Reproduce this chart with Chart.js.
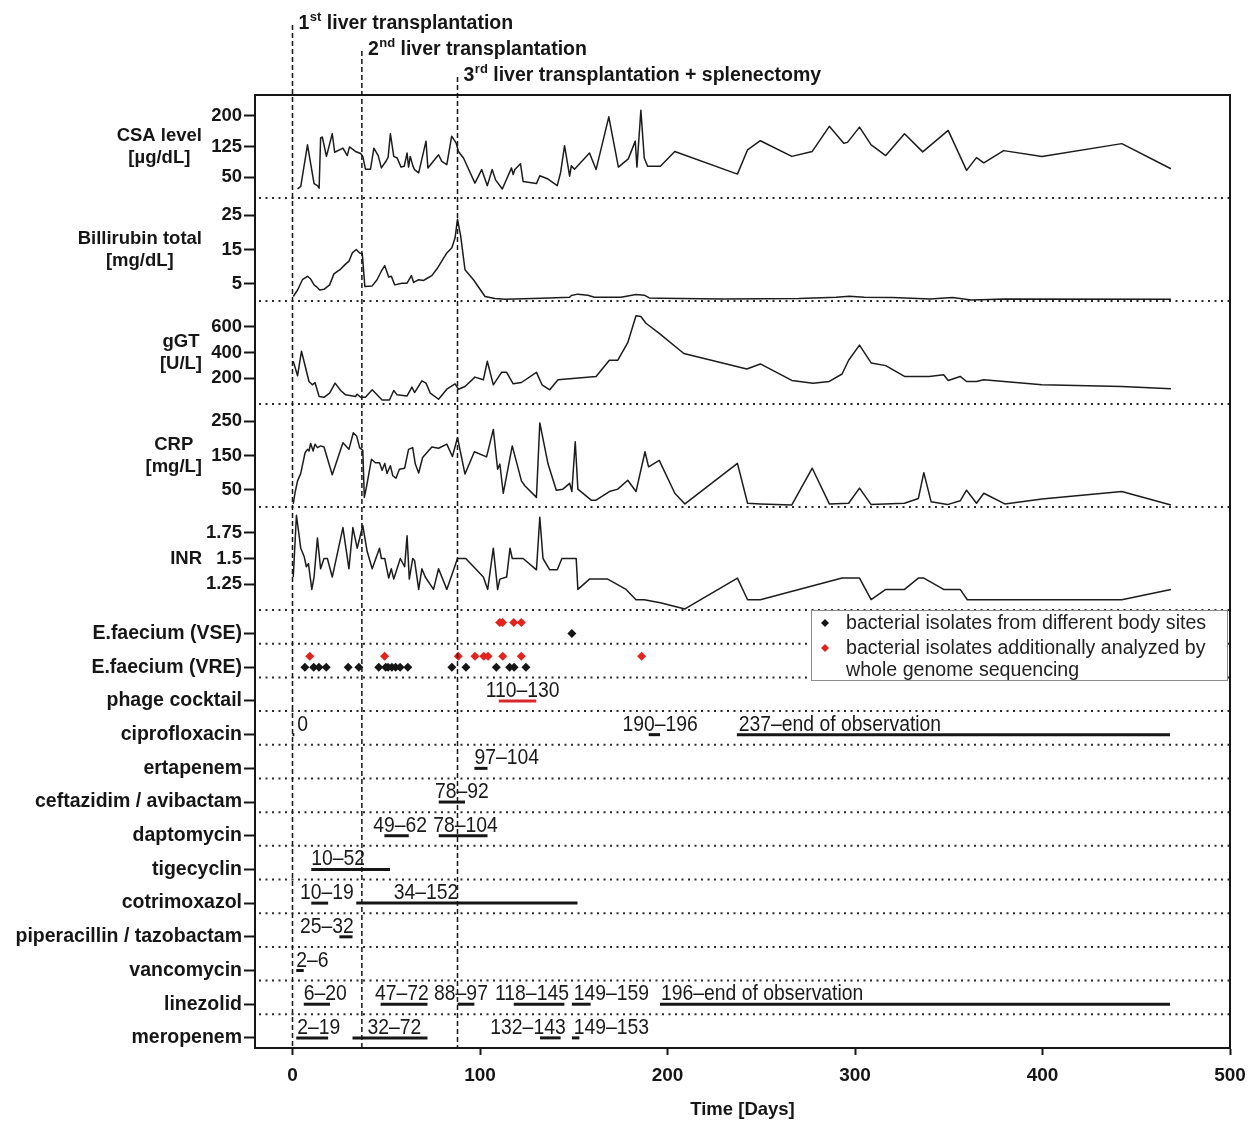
<!DOCTYPE html>
<html>
<head>
<meta charset="utf-8">
<title>Clinical course</title>
<script src="https://cdn.jsdelivr.net/npm/chart.js@4.4.0/dist/chart.umd.min.js"></script>
<style>
  html, body { margin: 0; padding: 0; background: #fff; }
  canvas { display: block; }
</style>
</head>
<body>
<canvas id="chart" width="1255" height="1122"></canvas>
<script>
// --- data (days since first transplantation) ---
const xTicks = [0, 100, 200, 300, 400, 500];
const eventDays = [0, 37, 88];
const eventLabels = [
  ['1', 'st', ' liver transplantation'],
  ['2', 'nd', ' liver transplantation'],
  ['3', 'rd', ' liver transplantation + splenectomy']
];

const panelTitles = [['CSA level', '[µg/dL]'], ['Billirubin total', '[mg/dL]'], ['gGT', '[U/L]'], ['CRP', '[mg/L]'], ['INR']];
const csaTicks = [50, 125, 200];
const biliTicks = [5, 15, 25];
const ggtTicks = [200, 400, 600];
const crpTicks = [50, 150, 250];
const inrTicks = [1.25, 1.5, 1.75];

const csa = [[2.7,22],[4.4,28],[8,129],[11.5,35],[13.3,30],[14.2,24],[15,146],[15.9,148],[18.1,101],[21.2,156],[22.5,111],[26.9,121],[29.2,103],[30.4,124],[33.6,113],[36.3,108],[37.5,101],[38.9,70],[41.6,70],[43.4,121],[45.7,103],[47.4,73],[50.1,91],[51,99],[52.2,156],[54,101],[55.8,97],[57.9,75],[59.6,77],[61.1,109],[61.9,75],[62.8,101],[64.2,78],[65.1,69],[67.3,61],[71.2,138],[72.2,73],[77.9,105],[79.6,89],[82.3,81],[84.9,150],[87.3,133],[88.5,113],[91.2,97],[97.3,36],[100.9,69],[103.9,30],[106.5,69],[108.3,44],[111.9,22],[116.8,73],[117.7,57],[118.6,69],[121.6,83],[123,40],[130.1,35],[131.9,54],[136.3,46],[141.2,30],[143,62],[145.1,127],[147.8,53],[148.7,78],[150.4,70],[158.4,109],[161.9,69],[168.7,197],[173.8,75],[179.1,95],[182.8,138],[183.7,75],[185.8,213],[187.6,97],[189.4,77],[196.2,77],[203.9,113],[237.3,58],[242.7,117],[249.5,139],[266.3,101],[277.2,113],[286.3,174],[294,133],[296,135],[302.4,172],[308.6,129],[316.4,103],[326.4,156],[336.1,112],[349.7,164],[359.5,67],[364.8,98],[368.7,85],[379.3,115],[399.7,101],[442.3,132],[468.5,71]];

const bili = [[0.4,1.3],[2.7,3.2],[5.3,6.2],[8,7.2],[9.7,6.4],[11.5,4.7],[12.7,4.2],[14.5,3.2],[16.8,3.4],[19.8,4.7],[22.1,7.9],[25.7,9.3],[28,10.6],[30.1,11.6],[31.9,14],[34,15],[35.8,14],[37.2,13.8],[38.6,4.2],[42.5,4.4],[45.1,6.2],[47.3,8.6],[49.2,10.3],[51.3,7],[52.7,7.2],[54.5,4.7],[58.4,5.2],[61.1,5.2],[63.4,7.4],[64.6,5.4],[67.3,6.2],[69.9,6],[71.2,6.4],[74.3,7.4],[77,9.3],[79.6,11.6],[82.3,14],[85,15.5],[86.7,18.4],[88,23.8],[89.7,18.9],[92,9.1],[96.5,6.2],[102.7,1.3],[108,0.7],[113.3,0.5],[132.7,0.8],[147.8,1.1],[148.7,1.6],[152.2,2],[157.5,1.7],[161,1.1],[175.2,1.1],[183.2,1.9],[187.6,1.7],[190.3,0.9],[196,0.8],[230,0.6],[270,0.7],[290,1.1],[297,1.4],[305,1.1],[320,1],[340,0.6],[352,1],[358,0.6],[362,0.3],[380,0.6],[468.5,0.5]];

const ggt = [[0.4,332],[2.7,220],[4.8,410],[8.8,175],[10.6,149],[12,167],[14.2,58],[16.8,52],[19.8,84],[22.7,162],[25.7,105],[28.3,71],[33.6,58],[34.5,76],[36.3,52],[38.9,52],[42.5,110],[47.8,31],[51.7,31],[54,105],[55.8,71],[61.1,63],[63.7,131],[65.1,89],[69,180],[71.2,162],[73.5,84],[77.9,37],[82.3,115],[86.7,157],[88.5,115],[92,136],[97.3,209],[101.8,188],[103.9,332],[107.1,149],[111.5,246],[114.2,246],[117.7,157],[122.1,167],[130.1,246],[133.1,149],[137.2,110],[141.6,188],[161.9,214],[169,340],[173.5,340],[178.8,476],[183.2,685],[185.8,680],[188.5,627],[195.6,549],[208.7,392],[242.3,272],[249.5,311],[266.3,183],[277.6,162],[286.3,175],[293.1,233],[296.6,340],[302.4,457],[308.6,319],[316.4,298],[326.4,214],[339.6,214],[347.3,227],[349.7,183],[356.1,214],[359.5,175],[364.8,175],[368.7,188],[399.7,149],[442.3,136],[468.5,118]];

const crp = [[0.4,9],[1.4,43],[2.7,76],[4.4,98],[6.7,158],[8,168],[8.8,163],[9.7,185],[11,163],[12,183],[13.3,173],[15,178],[16.8,175],[21.2,94],[26.9,187],[30.1,168],[32.4,216],[34.2,207],[35.8,173],[37.5,165],[38.3,28],[39.5,60],[42.1,139],[44.2,129],[46.4,129],[47.8,107],[49.2,127],[50.4,98],[52.2,120],[53.5,91],[55.2,84],[57,110],[59.8,113],[61.9,168],[64.1,173],[65.5,125],[67.3,99],[69.4,144],[74.3,175],[77.9,171],[82.3,183],[85.3,147],[88,202],[92,96],[97,161],[103.5,146],[107.1,226],[109.4,110],[110.6,125],[112.4,40],[117.2,178],[122.1,76],[123.9,62],[130.1,28],[131.9,245],[136.3,125],[140.7,49],[144.2,52],[147.8,69],[149,45],[150.8,190],[152.2,52],[159.3,20],[161.9,20],[169,45],[173.5,52],[178.8,78],[183.2,45],[188,161],[189.9,117],[195.6,136],[203.9,40],[209.3,9],[237.3,127],[242.7,11],[249.5,9],[266.3,6],[277.2,113],[286.3,9],[296.6,11],[302.4,55],[308.6,7],[326.4,11],[333.8,25],[336.7,100],[340.6,15],[349.3,7],[356.1,18],[359.5,49],[364.8,11],[368.7,40],[379.9,9],[399.7,23],[442.3,45],[468.5,6]];

const inr = [[0.4,1.32],[2.1,1.92],[4.4,1.6],[6.2,1.52],[7.4,1.42],[8.5,1.45],[10.3,1.2],[11.5,1.32],[13.3,1.7],[15,1.4],[16.8,1.5],[18.6,1.5],[21.2,1.32],[26.9,1.8],[30.1,1.4],[32.2,1.8],[34.5,1.6],[37.5,1.82],[39.8,1.57],[42.5,1.4],[46.4,1.6],[47.4,1.5],[49.2,1.5],[51.3,1.31],[52.7,1.4],[54,1.3],[57.5,1.5],[59.8,1.42],[61.1,1.72],[62.3,1.3],[64.1,1.5],[65.1,1.48],[67.3,1.2],[69,1.4],[70.8,1.32],[75.2,1.2],[77.9,1.4],[82.3,1.2],[88,1.5],[92.4,1.5],[101.8,1.32],[104.1,1.2],[107.1,1.6],[109.4,1.2],[110.6,1.3],[114.2,1.32],[116,1.6],[117.2,1.5],[123,1.5],[130.1,1.39],[131.9,1.9],[133.6,1.5],[137.2,1.39],[141.2,1.39],[143.7,1.5],[151.3,1.5],[152.2,1.2],[158.4,1.3],[168.1,1.3],[177.9,1.2],[183.2,1.1],[187.6,1.1],[196.2,1.07],[209.3,1.01],[237.3,1.31],[242.7,1.1],[249.5,1.1],[293.1,1.31],[302.4,1.31],[308.6,1.1],[316.4,1.2],[326.4,1.2],[333.8,1.31],[336.7,1.31],[347.3,1.2],[356.1,1.2],[359.9,1.1],[442.3,1.1],[468.5,1.2]];

// rows of the lower part, top to bottom
const rowLabels = ['E.faecium (VSE)', 'E.faecium (VRE)', 'phage cocktail', 'ciprofloxacin', 'ertapenem',
  'ceftazidim / avibactam', 'daptomycin', 'tigecyclin', 'cotrimoxazol', 'piperacillin / tazobactam',
  'vancomycin', 'linezolid', 'meropenem'];

const vseBlack = [149];
const vseRed = [110.5, 112, 118, 122];
const vreBlack = [6.6, 11.3, 14.1, 18, 29.7, 35.4, 46, 49.7, 51, 53, 55, 57.4, 61.5, 85, 92.5, 108.7, 115.8, 118.2, 124.5];
const vreRed = [9.2, 49.1, 88.4, 97.3, 102, 104.3, 112.1, 122, 186.2];

// [row, first day, last day, label, day where the label starts]
const therapies = [
  ['phage cocktail', 110, 130, '110–130', 103],
  ['ciprofloxacin', 0, 1, '0', 2.5],
  ['ciprofloxacin', 190, 196, '190–196', 176],
  ['ciprofloxacin', 237, 468, '237–end of observation', 238],
  ['ertapenem', 97, 104, '97–104', 97],
  ['ceftazidim / avibactam', 78, 92, '78–92', 76],
  ['daptomycin', 49, 62, '49–62', 43],
  ['daptomycin', 78, 104, '78–104', 75],
  ['tigecyclin', 10, 52, '10–52', 10],
  ['cotrimoxazol', 10, 19, '10–19', 4],
  ['cotrimoxazol', 34, 152, '34–152', 54],
  ['piperacillin / tazobactam', 25, 32, '25–32', 4],
  ['vancomycin', 2, 6, '2–6', 2],
  ['linezolid', 6, 20, '6–20', 6],
  ['linezolid', 47, 72, '47–72', 44],
  ['linezolid', 88, 97, '88–97', 75.5],
  ['linezolid', 118, 145, '118–145', 108],
  ['linezolid', 149, 159, '149–159', 150],
  ['linezolid', 196, 468, '196–end of observation', 196.5],
  ['meropenem', 2, 19, '2–19', 2.5],
  ['meropenem', 32, 72, '32–72', 40],
  ['meropenem', 132, 143, '132–143', 105.5],
  ['meropenem', 149, 153, '149–153', 150]
];

// --- styling ---
const FONT = "'Liberation Sans', Arial, Helvetica, sans-serif";
const INK = '#161616';
const RED = '#e3231c';
Chart.defaults.font.family = FONT;
Chart.defaults.color = INK;

const rowOf = name => rowLabels.indexOf(name);
const pts = arr => arr.map(([x, y]) => ({ x, y }));

function panelAxis(min, max, ticks, order) {
  return {
    type: 'linear', position: 'left', stack: 'left', stackWeight: 103, weight: order,
    min, max,
    afterBuildTicks: s => { s.ticks = ticks.map(v => ({ value: v })); },
    afterFit: s => { s.width = 255; },
    grid: { drawOnChartArea: false, drawTicks: true, tickLength: 11, tickWidth: 2, tickColor: INK },
    border: { display: true, width: 2, color: INK },
    ticks: { autoSkip: false, padding: 2, color: INK, font: { size: 18.5, weight: 'bold' }, callback: v => String(v) }
  };
}

function labLine(data, axis) {
  return {
    type: 'line', data: pts(data), yAxisID: axis,
    borderColor: '#1c1c1c', borderWidth: 1.5, borderJoinStyle: 'round',
    pointRadius: 0, tension: 0, fill: false
  };
}

const datasets = [
  labLine(csa, 'yCSA'),
  labLine(bili, 'yBili'),
  labLine(ggt, 'yGGT'),
  labLine(crp, 'yCRP'),
  labLine(inr, 'yINR')
];

function dots(days, row, color, lift) {
  return {
    type: 'scatter', yAxisID: 'yRows',
    data: days.map(d => ({ x: d, y: rowOf(row) - lift })),
    pointStyle: 'rectRot', pointRadius: 4.5, pointBackgroundColor: color, pointBorderWidth: 0
  };
}
datasets.push(dots(vseBlack, 'E.faecium (VSE)', INK, 0));
datasets.push(dots(vseRed, 'E.faecium (VSE)', RED, 0.33));
datasets.push(dots(vreBlack, 'E.faecium (VRE)', INK, 0));
datasets.push(dots(vreRed, 'E.faecium (VRE)', RED, 0.33));

therapies.forEach(([row, from, to]) => {
  datasets.push({
    type: 'line', yAxisID: 'yRows',
    data: [{ x: from, y: rowOf(row) }, { x: to, y: rowOf(row) }],
    borderColor: row === 'phage cocktail' ? '#d8262a' : INK,
    borderWidth: 3, borderCapStyle: 'butt', pointRadius: 0
  });
});

const decor = {
  id: 'decor',
  beforeDatasetsDraw(chart) {
    const { ctx, chartArea: a, scales: s } = chart;
    ctx.save();
    // dotted separators
    ctx.strokeStyle = '#2a2a2a';
    ctx.lineWidth = 2;
    ctx.setLineDash([2, 4.5]);
    const ys = ['yCSA', 'yBili', 'yGGT', 'yCRP', 'yINR'].map(id => s[id].bottom);
    for (let i = 0; i < rowLabels.length - 1; i++) ys.push(s.yRows.getPixelForValue(i + 0.3));
    ys.forEach(y => {
      ctx.beginPath(); ctx.moveTo(a.left + 4, y); ctx.lineTo(a.right, y); ctx.stroke();
    });
    ctx.setLineDash([]);
    // frame top and right
    ctx.strokeStyle = INK;
    ctx.lineWidth = 2;
    ctx.beginPath();
    ctx.moveTo(a.left, a.top); ctx.lineTo(a.right, a.top); ctx.lineTo(a.right, a.bottom);
    ctx.stroke();
    ctx.restore();
  },
  afterDatasetsDraw(chart) {
    const { ctx, chartArea: a, scales: s } = chart;
    ctx.save();
    // therapy labels (condensed face)
    ctx.fillStyle = '#1a1a1a';
    ctx.font = `22px ${FONT}`;
    ctx.textAlign = 'left';
    ctx.textBaseline = 'alphabetic';
    therapies.forEach(([row, , , label, at]) => {
      const x = s.x.getPixelForValue(at);
      const y = s.yRows.getPixelForValue(rowOf(row)) - 4;
      ctx.save();
      ctx.translate(x, y);
      ctx.scale(0.88, 1);
      ctx.fillText(label, 0, 0);
      ctx.restore();
    });

    // legend box
    const bx = a.right - 419, by = s.yINR.bottom, bw = 416, bh = 70;
    ctx.fillStyle = '#fff';
    ctx.fillRect(bx, by, bw, bh);
    ctx.strokeStyle = '#8c8c8c';
    ctx.lineWidth = 1;
    ctx.strokeRect(bx + 0.5, by + 0.5, bw, bh);
    const diamond = (x, y, r, c) => {
      ctx.fillStyle = c;
      ctx.beginPath();
      ctx.moveTo(x, y - r); ctx.lineTo(x + r, y); ctx.lineTo(x, y + r); ctx.lineTo(x - r, y);
      ctx.closePath(); ctx.fill();
    };
    diamond(bx + 14, by + 13, 4, INK);
    diamond(bx + 14, by + 38, 4, RED);
    ctx.fillStyle = '#222';
    ctx.font = `19.6px ${FONT}`;
    ctx.fillText('bacterial isolates from different body sites', bx + 35, by + 19);
    ctx.fillText('bacterial isolates additionally analyzed by', bx + 35, by + 44);
    ctx.fillText('whole genome sequencing', bx + 35, by + 66);
    ctx.restore();
  },
  afterDraw(chart) {
    const { ctx, chartArea: a, scales: s } = chart;
    ctx.save();
    // event lines and their captions
    eventDays.forEach((d, i) => {
      const x = s.x.getPixelForValue(d);
      const cy = 22 + i * 26;
      ctx.strokeStyle = INK;
      ctx.lineWidth = 1.5;
      ctx.setLineDash([5, 3]);
      ctx.beginPath(); ctx.moveTo(x, cy + 3); ctx.lineTo(x, a.bottom); ctx.stroke();
      ctx.setLineDash([]);
      const [num, sup, rest] = eventLabels[i];
      const base = cy + 7;
      let tx = x + 6;
      ctx.fillStyle = INK;
      ctx.textAlign = 'left';
      ctx.textBaseline = 'alphabetic';
      ctx.font = `bold 19.5px ${FONT}`;
      ctx.fillText(num, tx, base);
      tx += ctx.measureText(num).width + 0.5;
      ctx.font = `bold 13px ${FONT}`;
      ctx.fillText(sup, tx, base - 8);
      tx += ctx.measureText(sup).width;
      ctx.font = `bold 19.5px ${FONT}`;
      ctx.fillText(rest, tx, base);
    });

    // panel titles, right edge just left of the tick numbers
    ctx.font = `bold 18.5px ${FONT}`;
    ctx.textAlign = 'center';
    ctx.textBaseline = 'middle';
    ctx.fillStyle = INK;
    ['yCSA', 'yBili', 'yGGT', 'yCRP', 'yINR'].forEach((id, k) => {
      const lines = panelTitles[k];
      const sc = s[id];
      const w = Math.max(...lines.map(t => ctx.measureText(t).width));
      const cx = sc.right - 53 - w / 2;
      const cy = (sc.top + sc.bottom) / 2;
      lines.forEach((t, j) => ctx.fillText(t, cx, cy + (j - (lines.length - 1) / 2) * 22));
    });
    ctx.restore();
  }
};

new Chart(document.getElementById('chart'), {
  type: 'line',
  data: { datasets },
  options: {
    responsive: false,
    animation: false,
    layout: { padding: { top: 95, right: 25, bottom: 0, left: 0 } },
    plugins: { legend: { display: false }, tooltip: { enabled: false } },
    scales: {
      x: {
        type: 'linear', position: 'bottom', min: -20, max: 500,
        afterBuildTicks: s => { s.ticks = xTicks.map(v => ({ value: v })); },
        afterFit: s => { s.height = 74; },
        grid: { drawOnChartArea: false, drawTicks: true, tickLength: 7, tickWidth: 2, tickColor: INK },
        border: { display: true, width: 2, color: INK },
        ticks: { color: INK, padding: 9, maxRotation: 0, font: { size: 19, weight: 'bold' } },
        title: { display: true, text: 'Time [Days]', color: INK, font: { size: 18.5, weight: 'bold' }, padding: { top: 0, bottom: 1 } }
      },
      yCSA: panelAxis(0, 250, csaTicks, 5),
      yBili: panelAxis(0, 30, biliTicks, 4),
      yGGT: panelAxis(0, 800, ggtTicks, 3),
      yCRP: panelAxis(0, 300, crpTicks, 2),
      yINR: panelAxis(1, 2, inrTicks, 1),
      yRows: {
        type: 'linear', position: 'left', stack: 'left', stackWeight: 438, weight: 0,
        reverse: true, min: -0.7, max: 12.3,
        afterBuildTicks: s => { s.ticks = rowLabels.map((_, i) => ({ value: i })); },
        afterFit: s => { s.width = 255; },
        grid: { drawOnChartArea: false, drawTicks: true, tickLength: 11, tickWidth: 2, tickColor: INK },
        border: { display: true, width: 2, color: INK },
        ticks: { autoSkip: false, padding: 2, color: INK, font: { size: 19.5, weight: 'bold' }, callback: v => rowLabels[v] }
      }
    }
  },
  plugins: [decor]
});
</script>
</body>
</html>
